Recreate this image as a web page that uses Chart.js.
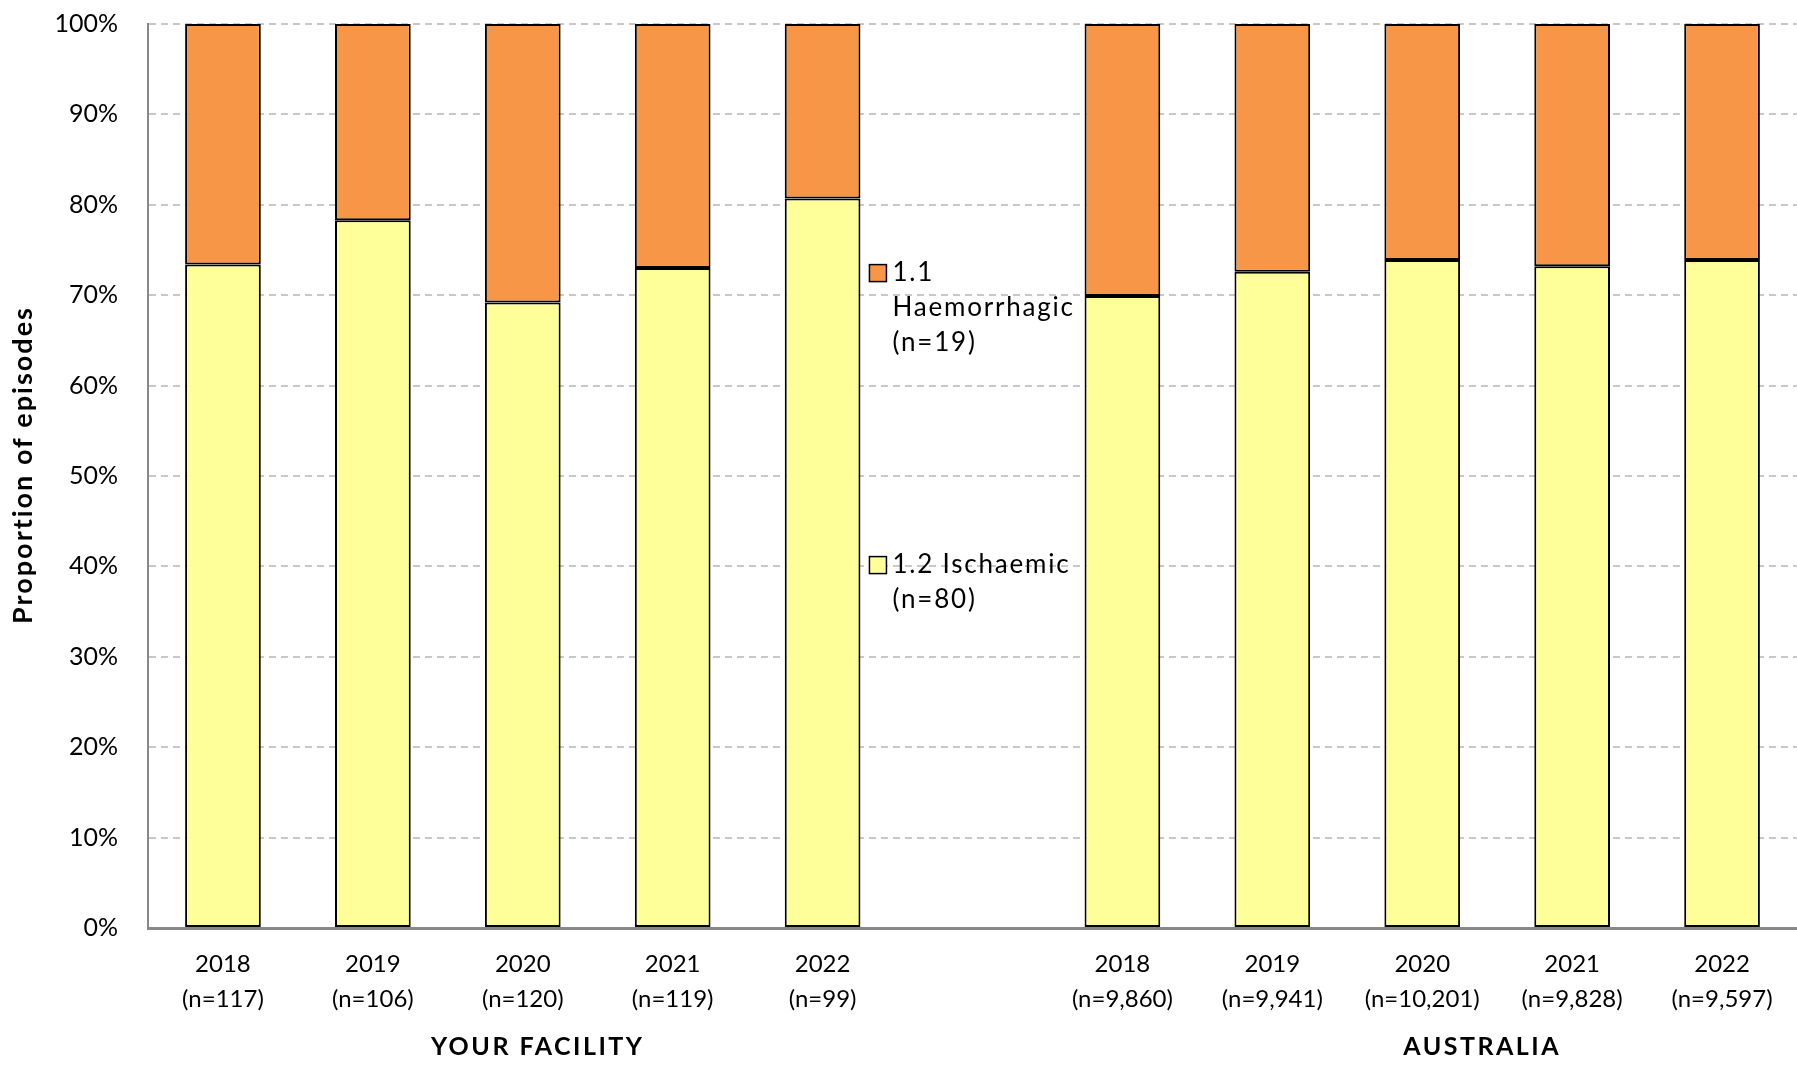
<!DOCTYPE html>
<html>
<head>
<meta charset="utf-8">
<script src="https://cdn.jsdelivr.net/npm/chart.js@4/dist/chart.umd.min.js"></script>
<style>
  html, body { margin: 0; padding: 0; background: #fff; }
  #wrap { width: 1797px; height: 1067px; position: relative; }
</style>
</head>
<body>
<div id="wrap"><canvas id="myChart"></canvas></div>
<script>
// categories
var years = ["2018", "2019", "2020", "2021", "2022"];
var facility_n = ["117", "106", "120", "119", "99"];
var australia_n = ["9,860", "9,941", "10,201", "9,828", "9,597"];
var groups = ["YOUR FACILITY", "AUSTRALIA"];
var y_title = "Proportion of episodes";

// % of episodes, your facility
var facility_ischaemic = [73.4, 78.3, 69.2, 73.0, 80.7];
var facility_haemorrhagic = [26.6, 21.7, 30.8, 27.0, 19.3];
// % of episodes, australia
var australia_ischaemic = [69.9, 72.6, 73.9, 73.2, 73.9];
var australia_haemorrhagic = [30.1, 27.4, 26.1, 26.8, 26.1];

// legend text (wrapped like the original)
var haem_legend = ["1.1", "Haemorrhagic", "(n=19)"];
var isch_legend = ["1.2 Ischaemic", "(n=80)"];

var y_ticks = [0, 10, 20, 30, 40, 50, 60, 70, 80, 90, 100];

// labels: 5 facility years, an empty gap, 5 australia years
var labels = [];
years.forEach(function (y, i) { labels.push([y, "(n=" + facility_n[i] + ")"]); });
labels.push("");
years.forEach(function (y, i) { labels.push([y, "(n=" + australia_n[i] + ")"]); });

var isch = facility_ischaemic.concat([null], australia_ischaemic);
var haem = facility_haemorrhagic.concat([null], australia_haemorrhagic);

var ORANGE = "#F79646";
var YELLOW = "#FFFF99";
var FONT = "Lato";

//凡例・軸タイトル・グループ名
var extras = {
    id: "extras",
    afterDraw: function (chart) {
        var ctx = chart.ctx;
        var xs = chart.scales.x, ys = chart.scales.y;
        ctx.save();
        ctx.fillStyle = "#000";
        ctx.textBaseline = "middle";

        // y axis title
        ctx.save();
        ctx.translate(23, 465);
        ctx.rotate(-Math.PI / 2);
        ctx.font = "bold 27px " + FONT;
        ctx.letterSpacing = "2px";
        ctx.textAlign = "center";
        ctx.fillText(y_title, 0, 0);
        ctx.restore();

        // group labels
        ctx.font = "bold 25px " + FONT;
        ctx.letterSpacing = "2.5px";
        ctx.textAlign = "center";
        ctx.fillText(groups[0], xs.getPixelForValue(2.1), 1047);
        ctx.fillText(groups[1], xs.getPixelForValue(8.4), 1047);

        // legend
        var bar = chart.getDatasetMeta(0).data[4];
        var bx = bar.x + bar.width / 2 + 9;
        var items = [
            { color: ORANGE, lines: haem_legend, v: 72.5 },
            { color: YELLOW, lines: isch_legend, v: 40.2 }
        ];
        ctx.font = "26px " + FONT;
        ctx.letterSpacing = "1.8px";
        ctx.textAlign = "left";
        items.forEach(function (it) {
            var cy = ys.getPixelForValue(it.v);
            ctx.fillStyle = it.color;
            ctx.fillRect(bx, cy - 8, 17, 17);
            ctx.strokeStyle = "#000";
            ctx.lineWidth = 1.5;
            ctx.strokeRect(bx, cy - 8, 17, 17);
            ctx.fillStyle = "#000";
            it.lines.forEach(function (t, i) {
                ctx.fillText(t, bx + 23, cy + i * 35);
            });
        });
        ctx.restore();
    }
};

var ctx = document.getElementById("myChart");
var myChart = new Chart(ctx, {
    type: "bar",
    data: {
        labels: labels,
        datasets: [
            {
                label: "1.2 Ischaemic (n=80)",
                data: isch,
                backgroundColor: YELLOW,
                borderColor: "#000",
                borderWidth: 2,
                borderSkipped: false
            },
            {
                label: "1.1 Haemorrhagic (n=19)",
                data: haem,
                backgroundColor: ORANGE,
                borderColor: "#000",
                borderWidth: 2,
                borderSkipped: false
            }
        ]
    },
    options: {
        responsive: true,
        maintainAspectRatio: false,
        animation: false,
        devicePixelRatio: 1,
        layout: { padding: { top: 24, right: 0, left: 0, bottom: 0 } },
        datasets: { bar: { categoryPercentage: 1, barPercentage: 0.505 } },
        plugins: {
            legend: { display: false },
            tooltip: { enabled: false }
        },
        scales: {
            x: {
                stacked: true,
                grid: { display: false },
                border: { display: true, color: "#888", width: 3 },
                ticks: {
                    color: "#000",
                    padding: 11,
                    maxRotation: 0,
                    autoSkip: false,
                    font: { family: FONT, size: 24, lineHeight: 1.45 }
                },
                afterFit: function (s) { s.height = 139; }
            },
            y: {
                stacked: true,
                min: 0,
                max: 100,
                afterBuildTicks: function (s) {
                    s.ticks = y_ticks.map(function (v) { return { value: v }; });
                },
                grid: { color: "#c8c8c8", lineWidth: 2, drawTicks: false },
                border: { display: true, color: "#888", width: 2, dash: [7, 5] },
                ticks: {
                    color: "#000",
                    padding: 30,
                    font: { family: FONT, size: 25 },
                    callback: function (v) { return v + "%"; }
                },
                afterFit: function (s) {
                    s.width = 148;
                    s.paddingTop = 0;
                    s.paddingBottom = 0;
                }
            }
        }
    },
    plugins: [extras]
});
</script>
</body>
</html>
